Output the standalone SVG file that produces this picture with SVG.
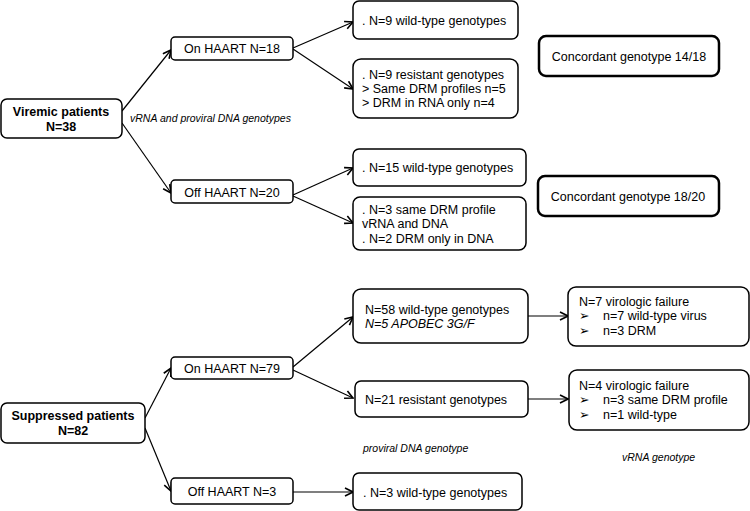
<svg xmlns="http://www.w3.org/2000/svg" width="750" height="511" viewBox="0 0 750 511">
<defs>
<style>
.box{fill:#fff;stroke:#000;stroke-width:1.5}
.cbox{fill:#fff;stroke:#000;stroke-width:2.5}
text{font-family:"Liberation Sans",Arial,sans-serif;font-size:12.5px;fill:#000}
.b{font-weight:bold}
.i{font-style:italic;font-size:10.5px}
.m{text-anchor:middle}
.bul{font-family:"DejaVu Sans",sans-serif;font-size:12.5px}
.conn line{stroke:#000;stroke-width:1.2;marker-end:url(#ah)}
</style>
<marker id="ah" viewBox="0 0 10 10" refX="9" refY="5" markerWidth="10" markerHeight="10" markerUnits="userSpaceOnUse" orient="auto">
<path d="M1,1 L9,5 L1,9" fill="none" stroke="#000" stroke-width="1.6"/>
</marker>
</defs>
<rect width="750" height="511" fill="#fff"/>
<g class="conn" id="connectors">
<line x1="122" y1="111" x2="171" y2="50"/>
<line x1="122" y1="123" x2="171" y2="193"/>
<line x1="293" y1="48" x2="353" y2="22"/>
<line x1="293" y1="49" x2="353" y2="89"/>
<line x1="293" y1="195" x2="353" y2="168"/>
<line x1="293" y1="196" x2="353" y2="223"/>
<line x1="145" y1="418" x2="171" y2="368"/>
<line x1="145" y1="428" x2="171" y2="491"/>
<line x1="293" y1="367" x2="353" y2="317"/>
<line x1="293" y1="370" x2="353" y2="398"/>
<line x1="293" y1="492" x2="353" y2="492"/>
<line x1="528" y1="316" x2="568" y2="316"/>
<line x1="528" y1="399" x2="568" y2="399"/>
</g>
<g id="viremic"><rect class="box" x="1" y="99" width="121" height="39" rx="6"/><text class="b m" x="61" y="116">Viremic patients</text><text class="b m" x="61" y="131">N=38</text></g>
<g id="on18"><rect class="box" x="171" y="37" width="122" height="23" rx="4"/><text class="m" x="232" y="53">On HAART N=18</text></g>
<g id="off20"><rect class="box" x="171" y="180" width="122" height="23" rx="4"/><text class="m" x="232" y="197">Off HAART N=20</text></g>
<text class="i" x="130" y="122">vRNA and proviral DNA genotypes</text>
<g id="wt9"><rect class="box" x="353" y="1" width="165" height="38" rx="6"/><text x="362" y="25">. N=9 wild-type genotypes</text></g>
<g id="res9"><rect class="box" x="353" y="59" width="165" height="59" rx="8"/><text x="362" y="79">. N=9 resistant genotypes</text><text x="362" y="93">&gt; Same DRM profiles n=5</text><text x="362" y="107">&gt; DRM in RNA only n=4</text></g>
<g id="conc14"><rect class="cbox" x="539" y="36" width="180" height="40" rx="7"/><text class="m" x="629" y="61">Concordant genotype 14/18</text></g>
<g id="wt15"><rect class="box" x="353" y="149" width="173" height="37" rx="6"/><text x="362" y="172">. N=15 wild-type genotypes</text></g>
<g id="drm3"><rect class="box" x="353" y="197" width="173" height="53" rx="7"/><text x="362" y="214">. N=3 same DRM profile</text><text x="362" y="228">vRNA and DNA</text><text x="362" y="243">. N=2 DRM only in DNA</text></g>
<g id="conc18"><rect class="cbox" x="538" y="176" width="181" height="40" rx="7"/><text class="m" x="628" y="201">Concordant genotype 18/20</text></g>
<g id="suppressed"><rect class="box" x="1" y="403" width="144" height="40" rx="6"/><text class="b m" x="73" y="420">Suppressed patients</text><text class="b m" x="73" y="435">N=82</text></g>
<g id="on79"><rect class="box" x="171" y="357" width="122" height="22" rx="4"/><text class="m" x="232" y="373">On HAART N=79</text></g>
<g id="off3"><rect class="box" x="171" y="478" width="122" height="26" rx="4"/><text class="m" x="232" y="496">Off HAART N=3</text></g>
<g id="wt58"><rect class="box" x="353" y="289" width="175" height="54" rx="8"/><text x="365" y="314">N=58 wild-type genotypes</text><text x="365" y="328" style="font-style:italic">N=5 APOBEC 3G/F</text></g>
<g id="res21"><rect class="box" x="355" y="381" width="173" height="36" rx="6"/><text x="365" y="404">N=21 resistant genotypes</text></g>
<g id="wt3"><rect class="box" x="353" y="473" width="169" height="37" rx="6"/><text x="363" y="497">. N=3 wild-type genotypes</text></g>
<text class="i" x="363" y="452">proviral DNA genotype</text>
<g id="vf7"><rect class="box" x="568" y="287" width="181" height="59" rx="8"/><text x="579" y="306">N=7 virologic failure</text><text class="bul" x="579" y="320">➢</text><text x="603" y="320">n=7 wild-type virus</text><text class="bul" x="579" y="335">➢</text><text x="603" y="335">n=3 DRM</text></g>
<g id="vf4"><rect class="box" x="569" y="370" width="180" height="60" rx="8"/><text x="579" y="390">N=4 virologic failure</text><text class="bul" x="579" y="404">➢</text><text x="603" y="404">n=3 same DRM profile</text><text class="bul" x="579" y="419">➢</text><text x="603" y="419">n=1 wild-type</text></g>
<text class="i" x="622" y="461">vRNA genotype</text>
</svg>
